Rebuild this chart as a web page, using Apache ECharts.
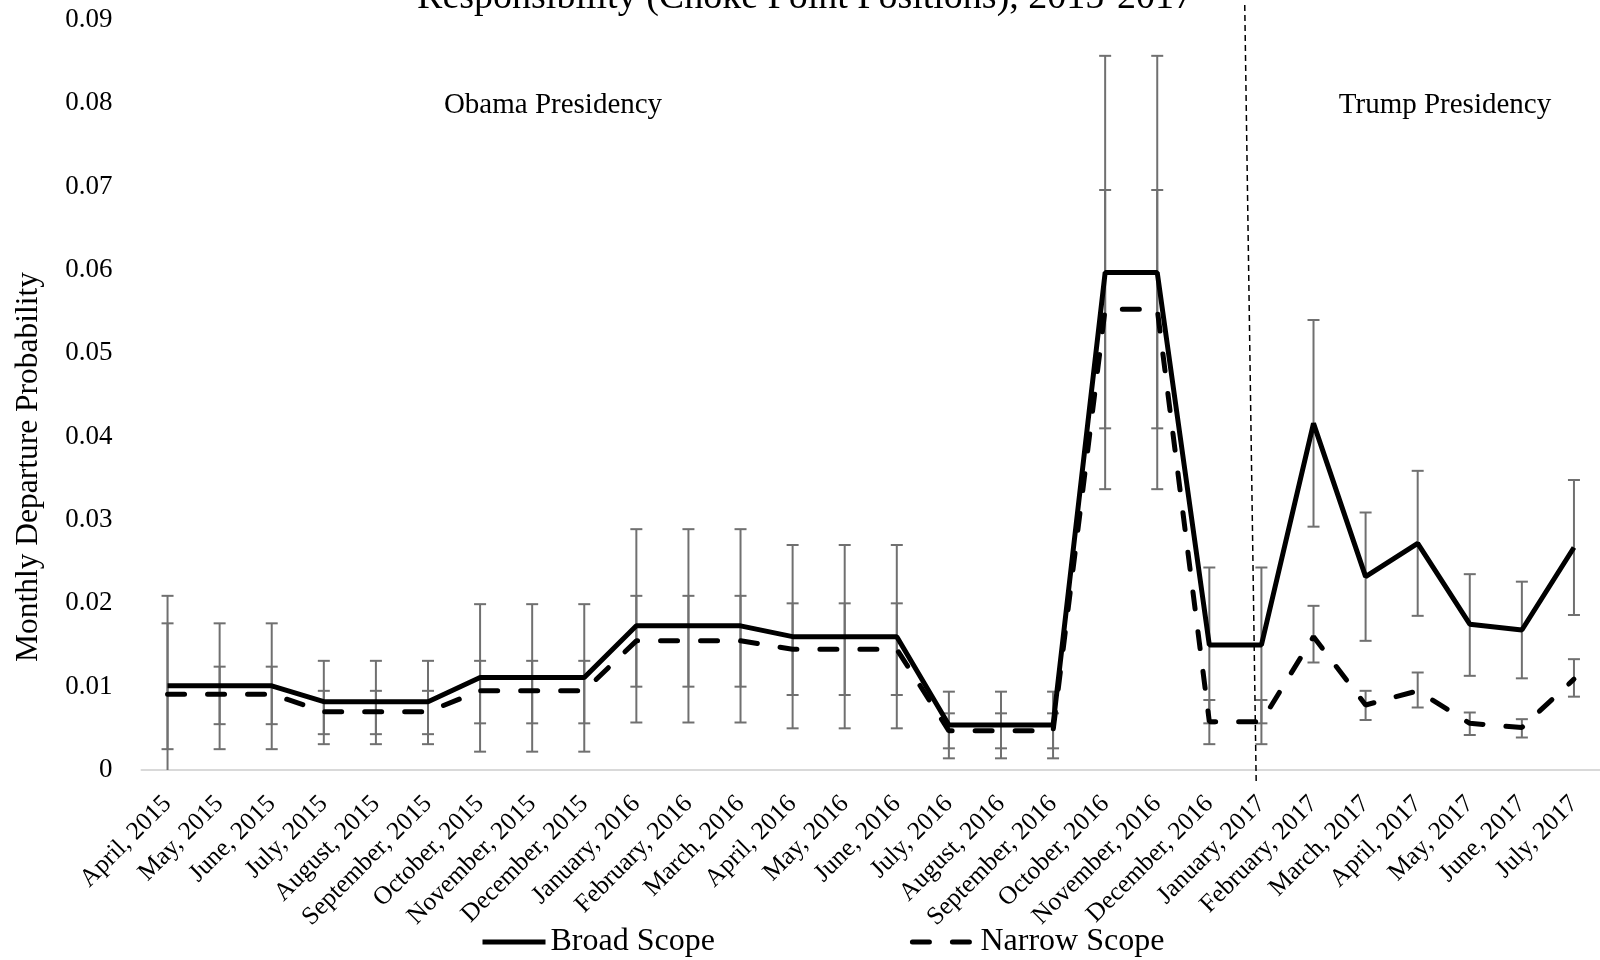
<!DOCTYPE html>
<html>
<head>
<meta charset="utf-8">
<script src="https://cdn.jsdelivr.net/npm/echarts@6/dist/echarts.min.js"></script>
<style>html,body{margin:0;padding:0;background:#fff;overflow:hidden;}#c{width:1600px;height:960px;}</style>
</head>
<body>
<div id="c"></div>
<script>
var categories = ["April, 2015","May, 2015","June, 2015","July, 2015","August, 2015","September, 2015","October, 2015","November, 2015","December, 2015","January, 2016","February, 2016","March, 2016","April, 2016","May, 2016","June, 2016","July, 2016","August, 2016","September, 2016","October, 2016","November, 2016","December, 2016","January, 2017","February, 2017","March, 2017","April, 2017","May, 2017","June, 2017","July, 2017"];

var broad     = [0.0101,0.0101,0.0101,0.0082,0.0082,0.0082,0.0111,0.0111,0.0111,0.0173,0.0173,0.0173,0.0160,0.0160,0.0160,0.0054,0.0054,0.0054,0.0597,0.0597,0.0150,0.0150,0.0416,0.0232,0.0272,0.0175,0.0168,0.0267];
var broadLow  = [0.0025,0.0025,0.0025,0.0031,0.0031,0.0031,0.0022,0.0022,0.0022,0.0057,0.0057,0.0057,0.0050,0.0050,0.0050,0.0014,0.0014,0.0014,0.0337,0.0337,0.0056,0.0056,0.0292,0.0155,0.0185,0.0113,0.0110,0.0186];
var broadHigh = [0.0176,0.0176,0.0176,0.0131,0.0131,0.0131,0.0199,0.0199,0.0199,0.0289,0.0289,0.0289,0.0270,0.0270,0.0270,0.0094,0.0094,0.0094,0.0857,0.0857,0.0243,0.0243,0.0540,0.0309,0.0359,0.0235,0.0226,0.0348];

var narrow     = [0.0091,0.0091,0.0091,0.0070,0.0070,0.0070,0.0095,0.0095,0.0095,0.0155,0.0155,0.0155,0.0145,0.0145,0.0145,0.0047,0.0047,0.0047,0.0553,0.0553,0.0058,0.0058,0.0160,0.0078,0.0095,0.0056,0.0051,0.0109];
var narrowLow  = [-0.0028,0.0055,0.0055,0.0043,0.0043,0.0043,0.0056,0.0056,0.0056,0.0100,0.0100,0.0100,0.0090,0.0090,0.0090,0.0026,0.0026,0.0026,0.0410,0.0410,0.0031,0.0031,0.0129,0.0060,0.0075,0.0042,0.0039,0.0088];
var narrowHigh = [0.0209,0.0124,0.0124,0.0095,0.0095,0.0095,0.0131,0.0131,0.0131,0.0209,0.0209,0.0209,0.0200,0.0200,0.0200,0.0068,0.0068,0.0068,0.0696,0.0696,0.0084,0.0084,0.0197,0.0095,0.0117,0.0069,0.0061,0.0133];

// divider between presidencies, in (category position, value) space
var dividerLine = [[20.68, 0.0918], [20.90, -0.0016]];

var yTicks = {min: 0, max: 0.09, interval: 0.01};

var FONT = "'Liberation Serif', 'Times New Roman', serif";

function errData(low, high) {
  return categories.map(function (c, i) { return [i, low[i], high[i]]; });
}

function renderErr(params, api) {
  var i = api.value(0);
  var lo = api.value(1), hi = api.value(2);
  var loC = Math.max(lo, 0);
  var pHi = api.coord([i, hi]);
  var pLo = api.coord([i, loC]);
  var hw = 6;
  var st = {stroke: '#707070', lineWidth: 2};
  var children = [
    {type: 'line', shape: {x1: pHi[0], y1: pHi[1], x2: pLo[0], y2: pLo[1]}, style: st},
    {type: 'line', shape: {x1: pHi[0] - hw, y1: pHi[1], x2: pHi[0] + hw, y2: pHi[1]}, style: st}
  ];
  if (lo >= 0) {
    children.push({type: 'line', shape: {x1: pLo[0] - hw, y1: pLo[1], x2: pLo[0] + hw, y2: pLo[1]}, style: st});
  }
  return {type: 'group', children: children};
}

var chart = echarts.init(document.getElementById('c'));
chart.setOption({
  animation: false,
  backgroundColor: '#fff',
  textStyle: {fontFamily: FONT},
  grid: {left: 141.5, right: -6, top: 20, bottom: 190, containLabel: false},
  legend: {
    data: ['Broad Scope', 'Narrow Scope'],
    left: 480, top: 926,
    itemGap: 195, itemWidth: 63, itemHeight: 14, padding: 0,
    itemStyle: {opacity: 0},
    lineStyle: {width: 5},
    textStyle: {fontFamily: FONT, fontSize: 32, color: '#000'}
  },
  xAxis: [{
    type: 'category',
    data: categories,
    boundaryGap: true,
    axisLine: {lineStyle: {color: '#d9d9d9', width: 2}},
    axisTick: {show: false},
    axisLabel: {interval: 0, rotate: 45, fontSize: 25.5, color: '#000', fontFamily: FONT, margin: 30},
    splitLine: {show: false}
  }, {
    type: 'value', show: false, min: -0.5, max: categories.length - 0.5
  }],
  yAxis: {
    type: 'value',
    min: yTicks.min, max: yTicks.max, interval: yTicks.interval,
    axisLine: {show: false},
    axisTick: {show: false},
    splitLine: {show: false},
    axisLabel: {
      fontSize: 27, color: '#000', fontFamily: FONT, margin: 29,
      formatter: function (v) { return v === 0 ? '0' : v.toFixed(2); }
    }
  },
  series: [
    {
      type: 'custom', name: 'broadErr', xAxisIndex: 0, renderItem: renderErr,
      data: errData(broadLow, broadHigh), z: 1, silent: true
    },
    {
      type: 'custom', name: 'narrowErr', xAxisIndex: 0, renderItem: renderErr,
      data: errData(narrowLow, narrowHigh), z: 1, silent: true
    },
    {
      type: 'line', name: 'Broad Scope', data: broad, xAxisIndex: 0,
      symbol: 'none', showSymbol: false,
      lineStyle: {color: '#000', width: 5, type: 'solid'},
      itemStyle: {color: '#000'}, z: 4
    },
    {
      type: 'line', name: 'Narrow Scope', data: narrow, xAxisIndex: 0,
      symbol: 'none', showSymbol: false,
      lineStyle: {color: '#000', width: 5, type: [17, 23], cap: 'round'},
      itemStyle: {color: '#000'}, z: 3
    },
    {
      type: 'line', name: 'divider', data: dividerLine, xAxisIndex: 1,
      symbol: 'none', clip: false, silent: true,
      lineStyle: {color: '#000', width: 1.5, type: [6, 4]}, z: 2
    }
  ],
  graphic: [
    {type: 'text', x: 805, y: 17, silent: true,
     style: {text: 'Responsibility (Choke Point Positions), 2015-2017', font: '38px ' + FONT, fill: '#000', textAlign: 'center', textVerticalAlign: 'bottom'}},
    {type: 'text', x: 553, y: 105, silent: true,
     style: {text: 'Obama Presidency', font: '29px ' + FONT, fill: '#000', textAlign: 'center', textVerticalAlign: 'middle'}},
    {type: 'text', x: 1445, y: 105, silent: true,
     style: {text: 'Trump Presidency', font: '29px ' + FONT, fill: '#000', textAlign: 'center', textVerticalAlign: 'middle'}},
    {type: 'text', x: 29, y: 467, rotation: Math.PI / 2, silent: true,
     style: {text: 'Monthly Departure Probability', font: '31.5px ' + FONT, fill: '#000', textAlign: 'center', textVerticalAlign: 'middle'}}
  ]
});
</script>
</body>
</html>
